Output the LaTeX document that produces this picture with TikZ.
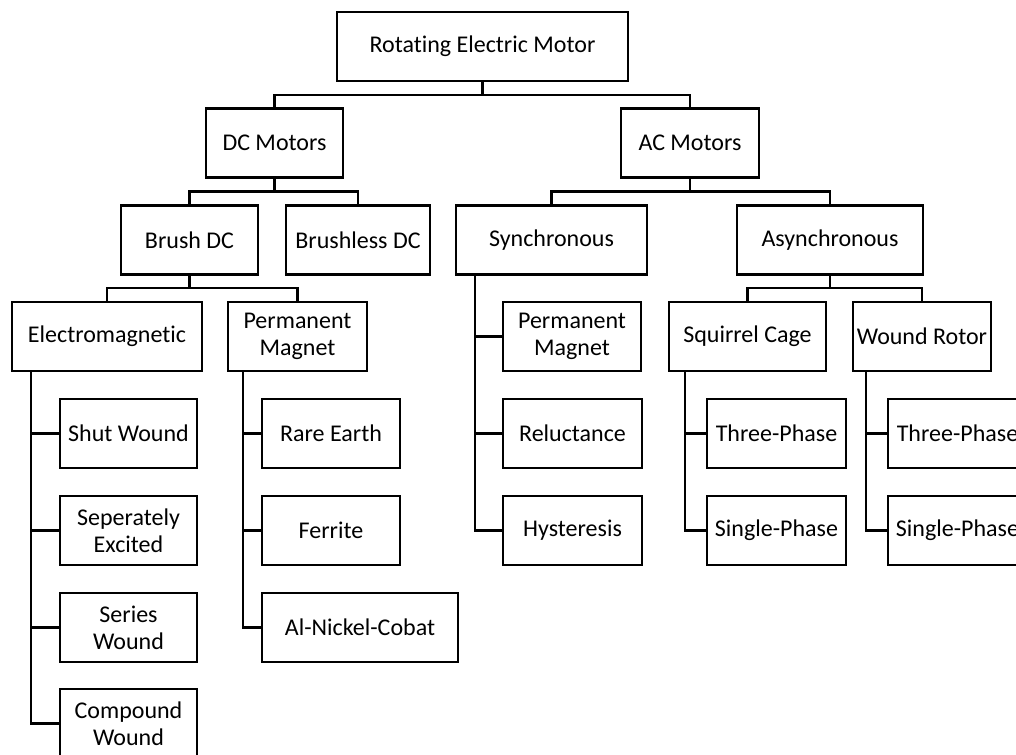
\documentclass[tikz,border=0pt]{standalone}
\usepackage{fontspec}
\setmainfont{Carlito}[RawFeature={-liga}]
\usetikzlibrary{calc}
\tikzset{
  box/.style={draw, line width=2.4pt, inner sep=0pt, align=center,
    minimum height=69, font=\fontsize{24}{27}\selectfont},
  link/.style={line width=2.4pt},
}
% parent-to-child elbow connector through the mid-height bus
\newcommand{\fork}[2]{\draw[link] (#1.south) |- ($(#1.south)!.5!(#2.north)$) -| (#2.north);}
% side trunk from a parent down to the west side of a child
\newcommand{\sidelink}[3]{\draw[link] ([xshift=#3]#1.south west) |- (#2.west);}
\begin{document}
\begin{tikzpicture}[x=1pt,y=-1pt]
\useasboundingbox (0,0) rectangle (1016,754);
\clip (0,0) rectangle (1016,754);
\fill[white] (0,0) rectangle (1016,754);

% level 0
\node[box, minimum width=291] (root) at (482.5,46.5) {Rotating Electric Motor};
% level 1
\node[box, minimum width=137] (dc) at (274.5,143) {DC Motors};
\node[box, minimum width=138] (ac) at (690,143) {AC Motors};
% level 2
\node[box, minimum width=137] (brush) at (189.5,240) {Brush DC};
\node[box, minimum width=144] (brushless) at (358,240) {Brushless DC};
\node[box, minimum width=191] (sync) at (551.5,240) {Synchronous};
\node[box, minimum width=186] (async) at (830,240) {Asynchronous};
% level 3
\node[box, minimum width=190] (em) at (107,336.5) {Electromagnetic};
\node[box, minimum width=139] (pm) at (297.5,336.5) {Permanent\\Magnet};
\node[box, minimum width=138] (spm) at (572,336.5) {Permanent\\Magnet};
\node[box, minimum width=157] (sq) at (747.5,336.5) {Squirrel Cage};
\node[box, minimum width=138] (wr) at (922,336.5) {Wound Rotor};
% leaves
\node[box, minimum width=137] (shut) at (128.5,433.5) {Shut Wound};
\node[box, minimum width=137] (sep) at (128.5,530.5) {Seperately\\Excited};
\node[box, minimum width=137] (series) at (128.5,627.5) {Series\\Wound};
\node[box, minimum width=137] (compound) at (128.5,723.5) {Compound\\Wound};
\node[box, minimum width=138] (rare) at (331,433.5) {Rare Earth};
\node[box, minimum width=138] (ferrite) at (331,530.5) {Ferrite};
\node[box, minimum width=196] (alnico) at (360,627.5) {Al-Nickel-Cobat};
\node[box, minimum width=139] (rel) at (572.5,433.5) {Reluctance};
\node[box, minimum width=139] (hyst) at (572.5,530.5) {Hysteresis};
\node[box, minimum width=139] (tp1) at (776.5,433.5) {Three-Phase};
\node[box, minimum width=139] (sp1) at (776.5,530.5) {Single-Phase};
\node[box, minimum width=139] (tp2) at (957.5,433.5) {Three-Phase};
\node[box, minimum width=139] (sp2) at (957.5,530.5) {Single-Phase};

% tree connectors
\fork{root}{dc}\fork{root}{ac}
\fork{dc}{brush}\fork{dc}{brushless}
\fork{ac}{sync}\fork{ac}{async}
\fork{brush}{em}\fork{brush}{pm}
\fork{async}{sq}\fork{async}{wr}

% side trunks
\sidelink{em}{shut}{20}\sidelink{em}{sep}{20}\sidelink{em}{series}{20}\sidelink{em}{compound}{20}
\sidelink{pm}{rare}{16}\sidelink{pm}{ferrite}{16}\sidelink{pm}{alnico}{16}
\sidelink{sync}{spm}{20}\sidelink{sync}{rel}{20}\sidelink{sync}{hyst}{20}
\sidelink{sq}{tp1}{17}\sidelink{sq}{sp1}{17}
\sidelink{wr}{tp2}{14}\sidelink{wr}{sp2}{14}
\end{tikzpicture}
\end{document}
